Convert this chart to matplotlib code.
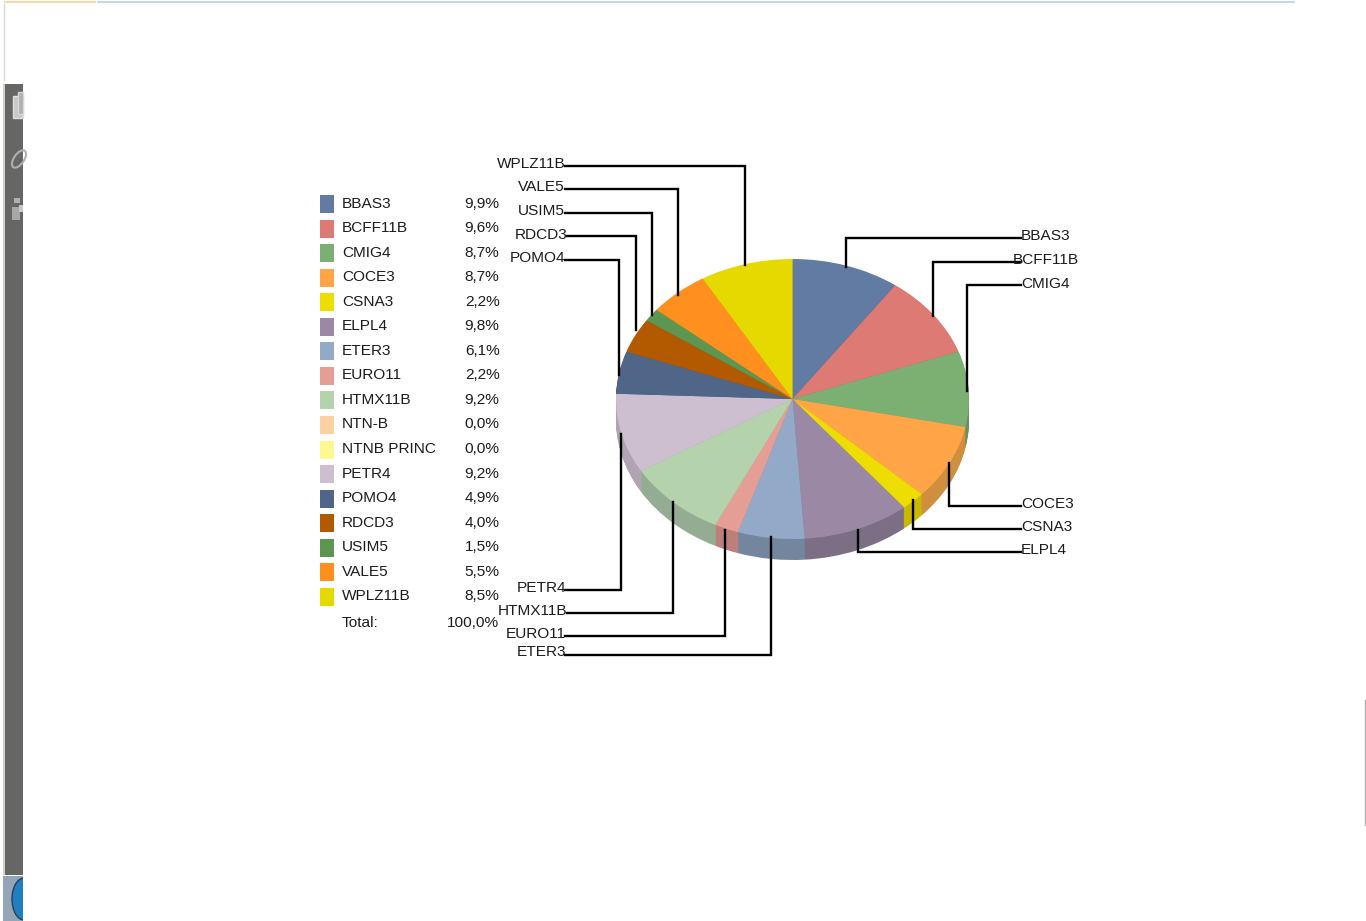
import matplotlib
matplotlib.use("Agg")
import matplotlib.pyplot as plt
from matplotlib.patches import Rectangle, Ellipse

plt.rcParams['font.family'] = ['Liberation Sans', 'DejaVu Sans']

W, H = 1366, 921

names = ["BBAS3", "BCFF11B", "CMIG4", "COCE3", "CSNA3", "ELPL4", "ETER3", "EURO11", "HTMX11B",
         "NTN-B", "NTNB PRINC", "PETR4", "POMO4", "RDCD3", "USIM5", "VALE5", "WPLZ11B"]
values = [9.9, 9.6, 8.7, 8.7, 2.2, 9.8, 6.1, 2.2, 9.2, 0.0, 0.0, 9.2, 4.9, 4.0, 1.5, 5.5, 8.5]
colors = ["#617ba3", "#de7a74", "#7bb072", "#ffa548", "#eedd00", "#9b88a5", "#93a9c8", "#e59e95",
          "#b4d3ac", "#fdd0a2", "#fdf98f", "#cdbfd0", "#506688", "#b35a00", "#5c9651", "#ff8f1f",
          "#e6d900"]
side_colors = ["#4f6485", "#b5635e", "#6a8f60", "#d08f3f", "#c9b800", "#7b6e85", "#74869e", "#bc7f7a",
               "#94ac92", "#cfa984", "#cfcb75", "#b0a3b2", "#415370", "#924900", "#4b7a42", "#d07519",
               "#bcb100"]
total_label = "Total:"
total_value = "100,0%"

# label, text x, text y, leader path
leaders = [
    ("WPLZ11B", 566, 164, [(565, 166), (745, 166), (745, 265)]),
    ("VALE5", 565, 187, [(565, 189), (678, 189), (678, 295)]),
    ("USIM5", 565, 211, [(565, 213), (652, 213), (652, 315)]),
    ("RDCD3", 568, 235, [(567, 236), (636, 236), (636, 330)]),
    ("POMO4", 565, 258, [(565, 260), (619, 260), (619, 375)]),
    ("PETR4", 566, 588, [(565, 590), (621, 590), (621, 434)]),
    ("HTMX11B", 567, 611, [(567, 613), (673, 613), (673, 502)]),
    ("EURO11", 566, 634, [(565, 636), (725, 636), (725, 530)]),
    ("ETER3", 566, 652, [(565, 655), (771, 655), (771, 537)]),
]
leaders_right = [
    ("BBAS3", 1021, 236, [(1021, 238), (846, 238), (846, 267)]),
    ("BCFF11B", 1013, 260, [(1021, 262), (933, 262), (933, 316)]),
    ("CMIG4", 1021, 284, [(1021, 285), (967, 285), (967, 391)]),
    ("COCE3", 1021, 504, [(1021, 506), (949, 506), (949, 463)]),
    ("CSNA3", 1021, 527, [(1021, 529), (913, 529), (913, 500)]),
    ("ELPL4", 1021, 550, [(1021, 552), (858, 552), (858, 530)]),
]

fig = plt.figure(figsize=(W / 100, H / 100), dpi=100, facecolor="white")

# pie ellipse in pixels: x 616-969, y 259-539, side wall 21 px deep
cx, cy, rx, ry, depth = 792.5, 399, 176.5, 140, 21
pie_ax = fig.add_axes([(cx - rx) / W, 1 - (cy + ry + depth) / H, 2 * rx / W, (2 * ry + depth) / H])
for k in range(depth, 0, -1):
    pie_ax.pie(values, colors=side_colors, startangle=90, counterclock=False,
               center=(0, -k / ry), wedgeprops={"linewidth": 0})
pie_ax.pie(values, colors=colors, startangle=90, counterclock=False, wedgeprops={"linewidth": 0})
pie_ax.set_aspect("auto")
pie_ax.set_xlim(-1, 1)
pie_ax.set_ylim(-1 - depth / ry, 1)

# everything else is drawn in pixel coordinates on top
ax = fig.add_axes([0, 0, 1, 1], facecolor="none")
ax.set_xlim(0, W)
ax.set_ylim(H, 0)
ax.axis("off")

text_size = 11.1
text_color = "#1c1c1c"

# legend
row_y0, row_step = 203.5, 24.55
for i, name in enumerate(names):
    y = row_y0 + i * row_step
    ax.add_patch(Rectangle((320, y - 8.5), 14, 18, facecolor=colors[i], edgecolor="none"))
    ax.text(342, y, name, fontsize=text_size, va="center", ha="left", color=text_color)
    ax.text(499.5, y, f"{values[i]:.1f}%".replace(".", ","), fontsize=text_size,
            va="center", ha="right", color=text_color)
ax.text(342, 623, total_label, fontsize=text_size, va="center", ha="left", color=text_color)
ax.text(499.5, 623, total_value, fontsize=text_size, va="center", ha="right", color=text_color)

# leader lines and labels
for label, x, y, path in leaders:
    ax.plot([p[0] for p in path], [p[1] for p in path], color="black", lw=1.7, solid_joinstyle="miter")
    ax.text(x, y, label, fontsize=text_size, va="center", ha="right", color=text_color)
for label, x, y, path in leaders_right:
    ax.plot([p[0] for p in path], [p[1] for p in path], color="black", lw=1.7, solid_joinstyle="miter")
    ax.text(x, y, label, fontsize=text_size, va="center", ha="left", color=text_color)

# bits of the screenshot around the chart
ax.add_patch(Rectangle((4, 1), 92, 2.5, facecolor="#f8d8a8", edgecolor="none"))
ax.add_patch(Rectangle((97, 1), 1198, 2.5, facecolor="#c5d8e8", edgecolor="none"))
ax.plot([3.5, 3.5], [4, 80], color="#d8d8d8", lw=1)
ax.add_patch(Rectangle((3, 84), 2, 791, facecolor="#d0d0d0", edgecolor="none"))
ax.add_patch(Rectangle((5, 84), 18, 791, facecolor="#666665", edgecolor="none"))
ax.add_patch(Rectangle((13, 96), 10, 22, facecolor="#c8c8c8", edgecolor="#e0e0e0", lw=1))
ax.add_patch(Rectangle((18, 92), 5, 22, facecolor="#b0b0b0", edgecolor="#d8d8d8", lw=1))
ax.add_patch(Ellipse((19, 159), 10, 20, angle=35, facecolor="none", edgecolor="#b0b0b0", lw=1.5))
ax.add_patch(Rectangle((12, 207), 8, 13, facecolor="#a8a8a8", edgecolor="none"))
ax.add_patch(Rectangle((14, 198), 6, 5, facecolor="#b0b0b0", edgecolor="none"))
ax.add_patch(Rectangle((19, 205), 4, 7, facecolor="#c8c8c8", edgecolor="none"))
ax.add_patch(Rectangle((3, 876), 20, 45, facecolor="#93a5b7", edgecolor="none"))
ax.add_patch(Ellipse((24, 899), 24, 42, facecolor="#1f7fc0", edgecolor="#23405c", lw=1))
ax.add_patch(Rectangle((23, 870), 20, 51, facecolor="white", edgecolor="none"))
ax.plot([1365, 1365], [700, 825], color="#b0b0b0", lw=1)

fig.savefig("out.png", dpi=100)
